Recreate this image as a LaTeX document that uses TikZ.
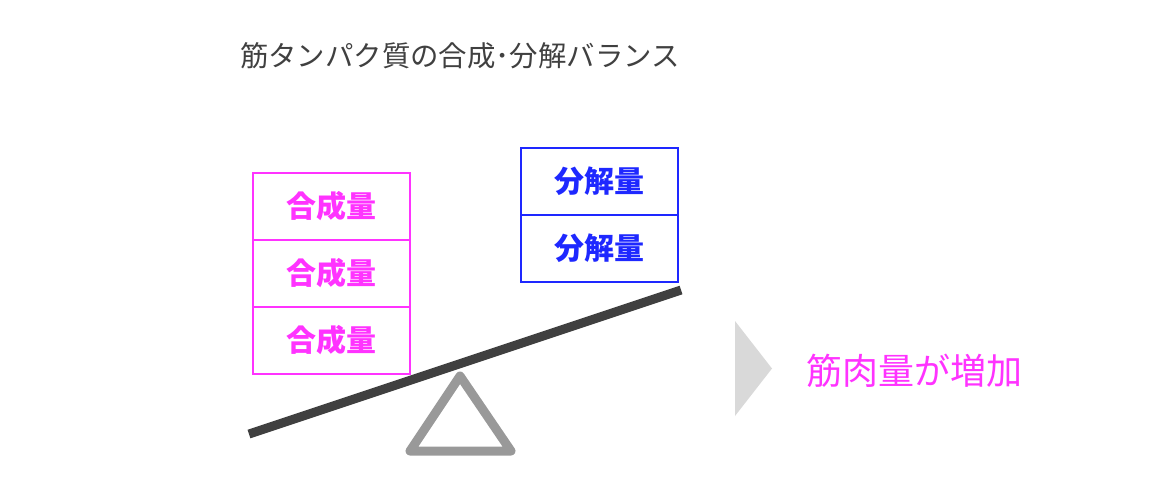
\documentclass[tikz,border=0pt]{standalone}
\usepackage{fontspec}
\newfontfamily\jp{Noto Sans CJK JP}
\definecolor{gosei}{RGB}{255,51,255}
\definecolor{bunkai}{RGB}{30,40,255}
\definecolor{barcol}{RGB}{64,64,64}
\definecolor{baseg}{RGB}{153,153,153}
\definecolor{arrg}{RGB}{217,217,217}
\tikzset{
  gbox/.style={draw=gosei,line width=1.2pt,minimum width=157pt,minimum height=67pt,inner sep=0pt,
    text=gosei,font=\jp\bfseries\fontsize{30}{32}\selectfont},
  bbox/.style={draw=bunkai,line width=1.2pt,minimum width=157pt,minimum height=67pt,inner sep=0pt,
    text=bunkai,font=\jp\bfseries\fontsize{30}{32}\selectfont}
}
\begin{document}
\begin{tikzpicture}[x=1pt,y=-1pt]
\useasboundingbox (0,0) rectangle (1152,496);
\node[font=\jp\fontsize{28.4}{30}\selectfont,text=barcol] (title) at (460,56) {筋タンパク質の合成･分解バランス};
% 合成量
\node[gbox] (g1) at (331.5,206.5) {合成量};
\node[gbox] (g2) at (331.5,273.5) {合成量};
\node[gbox] (g3) at (331.5,340.5) {合成量};
% 分解量
\node[bbox] (b1) at (599.5,181.5) {分解量};
\node[bbox] (b2) at (599.5,248.5) {分解量};
% seesaw
\draw[baseg,line width=9pt,line join=round] (460,376)--(511,451)--(410,451)--cycle;
\coordinate (lend) at (249,434);
\coordinate (rend) at (681,290);
\draw[barcol,line width=9pt] (lend)--(rend);
\fill[arrg] (735,321)--(772,368.5)--(735,416)--cycle;
\node[font=\jp\fontsize{36}{40}\selectfont,text=gosei] (result) at (914,371) {筋肉量が増加};
\end{tikzpicture}
\end{document}
